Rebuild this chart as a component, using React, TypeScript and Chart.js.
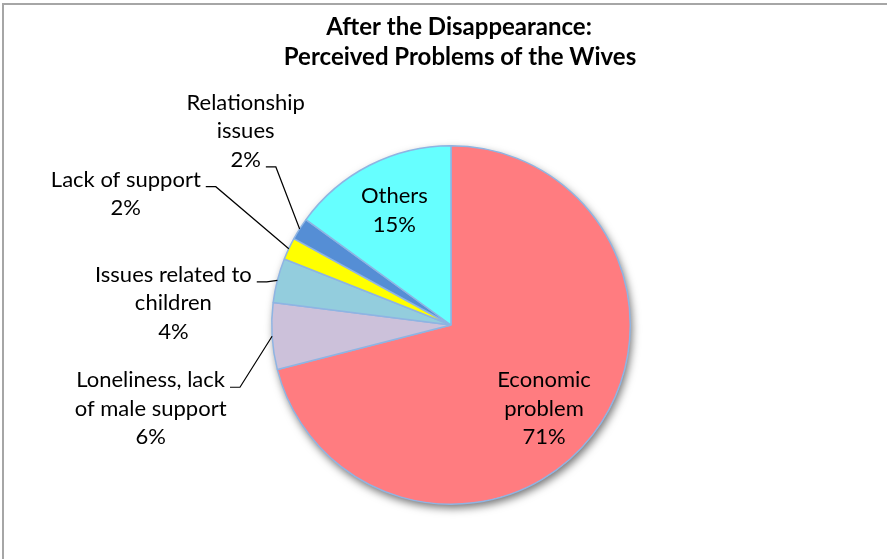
import React, { useEffect, useRef } from "react";
import { Chart, registerables } from "chart.js";

Chart.register(...registerables);

const titleLines = ["After the Disappearance:", "Perceived Problems of the Wives"];
const categories = [
  "Economic problem",
  "Loneliness, lack of male support",
  "Issues related to children",
  "Lack of support",
  "Relationship issues",
  "Others",
];
const labelLines = [
  ["Economic", "problem"],
  ["Loneliness, lack", "of male support"],
  ["Issues related to", "children"],
  ["Lack of support"],
  ["Relationship", "issues"],
  ["Others"],
];
const values = [71, 6, 4, 2, 2, 15];
const colors = ["#FF7C80", "#CCC1DA", "#93CDDD", "#FFFF00", "#558ED5", "#66FFFF"];

// label placement styles (offset of first baseline centre from an anchor on the slice)
const labelStyle = [
  { inside: true, rf: 0.72, dx: -9, dy: -17 },
  { inside: false, dx: -121.5, dy: 51, attach: 0 },
  { inside: false, dx: -104, dy: 1.5, attach: 0 },
  { inside: false, dx: -163, dy: -62, attach: 0 },
  { inside: false, dx: -54, dy: -119, attach: 2 },
  { inside: true, rf: 0.72, dx: 2, dy: -7 },
];

const FONT = "Lato, 'Noto Sans', sans-serif";
const LABEL_SIZE = 22;
const LINE_H = 28.5;

const framePlugin = {
  id: "frame",
  beforeDraw(chart: any) {
    const ctx = chart.ctx;
    ctx.save();
    ctx.strokeStyle = "#A6A6A6";
    ctx.lineWidth = 2;
    ctx.beginPath();
    ctx.moveTo(3, chart.height);
    ctx.lineTo(3, 4);
    ctx.lineTo(chart.width, 4);
    ctx.stroke();
    ctx.restore();
  },
};

const shadowPlugin = {
  id: "pieShadow",
  beforeDatasetsDraw(chart: any) {
    const arc = chart.getDatasetMeta(0).data[0];
    if (!arc) return;
    const { x, y, outerRadius } = arc.getProps(["x", "y", "outerRadius"], true);
    const ctx = chart.ctx;
    ctx.save();
    ctx.shadowColor = "rgba(0,0,0,0.55)";
    ctx.shadowBlur = 8;
    ctx.shadowOffsetX = 2;
    ctx.shadowOffsetY = 4;
    ctx.fillStyle = "#ffffff";
    ctx.beginPath();
    ctx.arc(x, y, outerRadius, 0, Math.PI * 2);
    ctx.fill();
    ctx.restore();
  },
};

const labelsPlugin = {
  id: "sliceLabels",
  afterDatasetsDraw(chart: any) {
    const ctx = chart.ctx;
    const meta = chart.getDatasetMeta(0);
    const total = values.reduce((a, b) => a + b, 0);
    ctx.save();
    ctx.font = `${LABEL_SIZE}px ${FONT}`;
    ctx.fillStyle = "#000000";
    ctx.textAlign = "center";
    ctx.textBaseline = "alphabetic";
    meta.data.forEach((arc: any, i: number) => {
      const p = arc.getProps(["x", "y", "startAngle", "endAngle", "outerRadius"], true);
      const mid = (p.startAngle + p.endAngle) / 2;
      const st = labelStyle[i];
      const r = st.inside ? p.outerRadius * (st.rf as number) : p.outerRadius;
      const ax = p.x + Math.cos(mid) * r;
      const ay = p.y + Math.sin(mid) * r;
      const pct = Math.round((values[i] / total) * 100) + "%";
      const lines = [...labelLines[i], pct];
      const cx = ax + st.dx;
      const by = ay + st.dy;
      lines.forEach((t, k) => ctx.fillText(t, cx, by + k * LINE_H));
      if (!st.inside) {
        const k = st.attach as number;
        const w = ctx.measureText(lines[k]).width;
        const ly = by + k * LINE_H;
        const sx = cx + w / 2 + 5;
        const ex = Math.min(sx + 10, ax);
        ctx.strokeStyle = "#000000";
        ctx.lineWidth = 1.2;
        ctx.beginPath();
        ctx.moveTo(sx, ly);
        ctx.lineTo(ex, ly);
        ctx.lineTo(ax, ay);
        ctx.stroke();
      }
    });
    ctx.restore();
  },
  afterDraw(chart: any) {
    const ctx = chart.ctx;
    ctx.save();
    ctx.font = `bold 24px ${FONT}`;
    ctx.fillStyle = "#000000";
    ctx.textAlign = "center";
    ctx.textBaseline = "alphabetic";
    ctx.fillText(titleLines[0], 459, 35);
    ctx.fillText(titleLines[1], 460, 65);
    ctx.restore();
  },
};

export default function App() {
  const ref = useRef<HTMLCanvasElement | null>(null);
  useEffect(() => {
    document.body.style.margin = "0";
    const canvas = ref.current;
    if (!canvas) return;
    const chart = new Chart(canvas, {
      type: "pie",
      data: {
        labels: categories,
        datasets: [
          {
            data: values,
            backgroundColor: colors,
            borderColor: "#8EB4E3",
            borderWidth: 1.5,
          },
        ],
      },
      options: {
        animation: false,
        responsive: false,
        layout: { padding: { top: 145, bottom: 54, left: 15, right: 0 } },
        plugins: {
          legend: { display: false },
          tooltip: { enabled: false },
          title: { display: false },
        },
      },
      plugins: [framePlugin, shadowPlugin, labelsPlugin],
    });
    return () => chart.destroy();
  }, []);
  return (
    <div style={{ position: "absolute", left: 0, top: 0, width: 887, height: 559, background: "#fff" }}>
      <canvas ref={ref} width={887} height={559} style={{ display: "block" }} />
    </div>
  );
}
